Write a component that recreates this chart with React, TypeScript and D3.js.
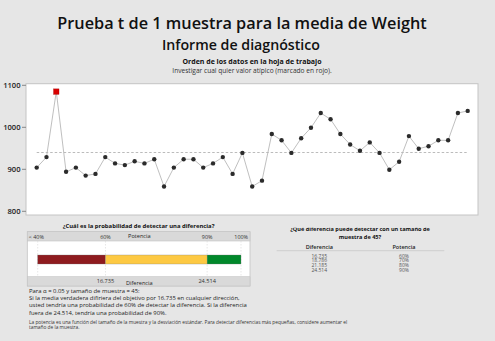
import React from "react";
import * as d3 from "d3";

const weights = [
  904, 929, 1085, 894, 904, 885, 889, 929, 914, 910, 919, 914, 924, 859, 904,
  924, 924, 904, 914, 929, 889, 939, 859, 873, 984, 969, 939, 974, 999, 1034,
  1019, 984, 959, 944, 964, 939, 899, 918, 979, 949, 955, 969, 969, 1034, 1039,
];
const outlierIndex = [2];
const referenceValue = 940;
const yTicks = [800, 900, 1000, 1100];

const powerStops = [40, 60, 90, 100];
const powerLabels = ["< 40%", "60%", "90%", "100%"];
const diffLabels = ["", "16.735", "24.514", ""];
const segColors = ["#8e1b1f", "#fdc943", "#01882b"];

const tableDiff = ["16.735", "18.786", "21.185", "24.514"];
const tablePower = ["60%", "70%", "80%", "90%"];

const paraLines = [
  "Para \u03b1 = 0.05 y tamaño de muestra = 45:",
  "Si la media verdadera difiriera del objetivo por 16.735 en cualquier dirección,",
  "usted tendría una probabilidad de 60% de detectar la diferencia. Si la diferencia",
  "fuera de 24.514, tendría una probabilidad de 90%.",
];
const noteLines = [
  "La potencia es una función del tamaño de la muestra y la desviación estándar. Para detectar diferencias más pequeñas, considere aumentar el",
  "tamaño de la muestra.",
];

const FONT = "'Open Sans', 'Noto Sans', sans-serif";

export default function App() {
  const W = 495,
    H = 341;
  const box = { x0: 26, x1: 478, y0: 83.7, y1: 215 };
  const x = d3.scaleLinear().domain([0, weights.length - 1]).range([36.7, 467.7]);
  const y = d3.scaleLinear().domain([800, 1100]).range([211.3, 85.3]);
  const line = d3
    .line<number>()
    .x((_, i) => x(i))
    .y((d) => y(d));

  const px = d3.scaleLinear().domain([40, 100]).range([37.7, 241]);
  const panel = { x0: 27.3, x1: 250, y0: 231.7, y1: 286 };
  const hdrH = 9.3;
  const barY0 = 255,
    barY1 = 264;

  return (
    <svg
      width={W}
      height={H}
      style={{ position: "fixed", left: 0, top: 0, fontFamily: FONT }}
    >
      <defs>
        <clipPath id="clipL">
          <rect x={0} y={223.2} width={260} height={10} />
        </clipPath>
        <clipPath id="clipR">
          <rect x={260} y={227.8} width={235} height={12} />
        </clipPath>
      </defs>
      <rect x={0} y={0} width={W} height={H} fill="#e6e6e6" />

      <text x={242} y={29} textAnchor="middle" fontSize={16.3} fontWeight={600} fill="#111">
        Prueba t de 1 muestra para la media de Weight
      </text>
      <text x={241} y={50} textAnchor="middle" fontSize={14.2} fontWeight={600} fill="#111">
        Informe de diagnóstico
      </text>
      <text x={252} y={64} textAnchor="middle" fontSize={7} fontWeight={700} fill="#111">
        Orden de los datos en la hoja de trabajo
      </text>
      <text x={252} y={72.5} textAnchor="middle" fontSize={6.6} fill="#333">
        Investigar cual quier valor atípico (marcado en rojo).
      </text>

      {/* plot box */}
      <rect
        x={box.x0}
        y={box.y0}
        width={box.x1 - box.x0}
        height={box.y1 - box.y0}
        fill="#fff"
        stroke="#c4c4c4"
        strokeWidth={1}
      />
      {yTicks.map((t) => (
        <g key={t}>
          <line x1={box.x0 - 4} x2={box.x0} y1={y(t)} y2={y(t)} stroke="#888" />
          <text
            x={box.x0 - 5.5}
            y={y(t)}
            dy="0.35em"
            textAnchor="end"
            fontSize={7.6}
            fontWeight={600}
            fill="#222"
          >
            {t}
          </text>
        </g>
      ))}
      <line
        x1={x(0)}
        x2={x(weights.length - 1)}
        y1={y(referenceValue)}
        y2={y(referenceValue)}
        stroke="#aaa"
        strokeWidth={0.8}
        strokeDasharray="2.5,2"
      />
      <path d={line(weights) || ""} fill="none" stroke="#b8b8b8" strokeWidth={0.9} />
      {weights.map((v, i) =>
        outlierIndex.includes(i) ? (
          <rect key={i} x={x(i) - 2.7} y={y(v) - 2.7} width={5.4} height={5.4} fill="#d90000" stroke="#a00" strokeWidth={0.4} />
        ) : (
          <circle key={i} cx={x(i)} cy={y(v)} r={2.2} fill="#2b2b2b" />
        )
      )}

      {/* power panel */}
      <text
        x={138.6}
        y={225.5}
        dy="0.35em"
        textAnchor="middle"
        fontSize={5.9}
        fontWeight={700}
        fill="#111"
        clipPath="url(#clipL)"
      >
        ¿Cuál es la probabilidad de detectar una diferencia?
      </text>
      <rect
        x={panel.x0}
        y={panel.y0}
        width={panel.x1 - panel.x0}
        height={panel.y1 - panel.y0}
        fill="#fff"
        stroke="#c4c4c4"
        strokeWidth={0.8}
      />
      <rect x={panel.x0} y={panel.y0} width={panel.x1 - panel.x0} height={hdrH} fill="#d9d9d9" stroke="#c4c4c4" strokeWidth={0.6} />
      <rect x={panel.x0} y={panel.y1 - hdrH} width={panel.x1 - panel.x0} height={hdrH} fill="#d9d9d9" stroke="#c4c4c4" strokeWidth={0.6} />
      {powerStops.map((p) => (
        <line
          key={p}
          x1={px(p)}
          x2={px(p)}
          y1={panel.y0 + hdrH}
          y2={panel.y1 - hdrH}
          stroke="#d6d6d6"
          strokeWidth={0.6}
          strokeDasharray="1.5,1.5"
        />
      ))}
      {segColors.map((c, i) => (
        <rect
          key={i}
          x={px(powerStops[i])}
          y={barY0}
          width={px(powerStops[i + 1]) - px(powerStops[i])}
          height={barY1 - barY0}
          fill={c}
          stroke="#777"
          strokeWidth={0.3}
        />
      ))}
      {powerLabels.map((l, i) => (
        <text
          key={l}
          x={i === 0 ? panel.x0 + 1.5 : i === powerLabels.length - 1 ? panel.x1 - 2 : px(powerStops[i])}
          y={237}
          dy="0.35em"
          textAnchor={i === 0 ? "start" : i === powerLabels.length - 1 ? "end" : "middle"}
          fontSize={5.4}
          fill="#333"
        >
          {l}
        </text>
      ))}
      <text x={139.3} y={235.8} dy="0.35em" textAnchor="middle" fontSize={5.6} fill="#222">
        Potencia
      </text>
      {diffLabels.map((l, i) =>
        l ? (
          <text key={i} x={px(powerStops[i])} y={280.7} dy="0.35em" textAnchor="middle" fontSize={5.6} fill="#333">
            {l}
          </text>
        ) : null
      )}
      <text x={139.3} y={282.7} dy="0.35em" textAnchor="middle" fontSize={5.6} fill="#222">
        Diferencia
      </text>

      {paraLines.map((l, i) => (
        <text key={i} x={29} y={291.2 + i * 7.1} dy="0.35em" fontSize={5.9} fill="#222">
          {l}
        </text>
      ))}
      {noteLines.map((l, i) => (
        <text key={i} x={29} y={322.5 + i * 5} dy="0.35em" fontSize={4.8} fill="#333">
          {l}
        </text>
      ))}

      {/* right table */}
      <g clipPath="url(#clipR)">
        <text x={360} y={229.2} dy="0.35em" textAnchor="middle" fontSize={5.6} fontWeight={700} fill="#111">
          ¿Qué diferencia puede detectar con un tamaño de
        </text>
        <text x={360} y={236.6} dy="0.35em" textAnchor="middle" fontSize={5.6} fontWeight={700} fill="#111">
          muestra de 45?
        </text>
      </g>
      <text x={319.3} y={247.3} dy="0.35em" textAnchor="middle" fontSize={5.5} fontWeight={600} fill="#222">
        Diferencia
      </text>
      <text x={404} y={247.3} dy="0.35em" textAnchor="middle" fontSize={5.5} fontWeight={600} fill="#222">
        Potencia
      </text>
      <line x1={276.7} x2={444.3} y1={250.7} y2={250.7} stroke="#c4c4c4" strokeWidth={0.7} />
      {tableDiff.map((d, i) => (
        <g key={d}>
          <text x={319.3} y={256 + i * 4.7} dy="0.35em" textAnchor="middle" fontSize={5} fill="#555">
            {d}
          </text>
          <text x={404} y={256 + i * 4.7} dy="0.35em" textAnchor="middle" fontSize={5} fill="#555">
            {tablePower[i]}
          </text>
        </g>
      ))}
    </svg>
  );
}
